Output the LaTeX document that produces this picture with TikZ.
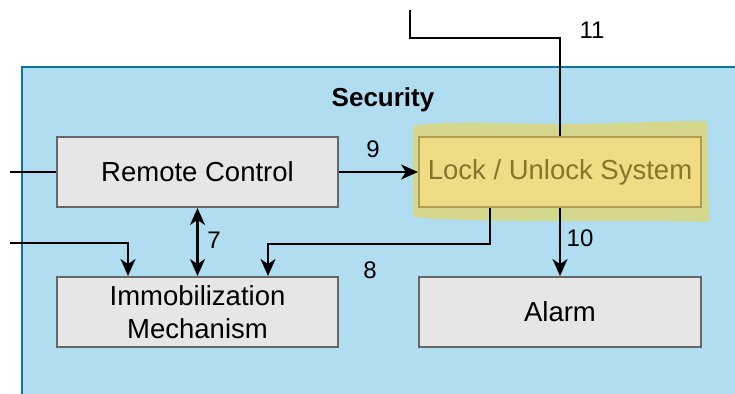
\documentclass[tikz,border=0pt]{standalone}
\usepackage{fontspec}
\setmainfont{Liberation Sans}
\usetikzlibrary{arrows.meta}
\definecolor{secfill}{HTML}{B1DDF0}
\definecolor{secline}{HTML}{10739E}
\definecolor{boxfill}{HTML}{E6E6E6}
\definecolor{boxline}{HTML}{666666}
\definecolor{lockfill}{HTML}{F0DC84}
\definecolor{lockline}{HTML}{B09B50}
\definecolor{locktext}{HTML}{86752A}
\definecolor{marker}{HTML}{D4D78C}

\begin{document}
\begin{tikzpicture}[x=1pt,y=-1pt,
  block/.style={draw=boxline, fill=boxfill, line width=2pt,
    minimum width=281pt, minimum height=70pt, inner sep=0pt,
    align=center, font=\fontsize{27.5}{33}\selectfont},
  wire/.style={line width=2.1pt, draw=black},
  head/.style={Stealth[length=17pt,width=15pt,inset=5pt]},
  tip/.style={-{Stealth[length=17pt,width=15pt,inset=5pt]}},
  bitip/.style={{Stealth[length=17pt,width=15pt,inset=5pt]}-{Stealth[length=17pt,width=15pt,inset=5pt]}},
  num/.style={font=\fontsize{24}{28}\selectfont, inner sep=0pt}]

\useasboundingbox (0,0) rectangle (735,393);
\clip (0,0) rectangle (735,393);
\fill[white] (0,0) rectangle (735,393);

% security group
\draw[fill=secfill, draw=secline, line width=1.5pt] (22,67) rectangle (760,420);
\node[font=\bfseries\fontsize{26}{30}\selectfont] (title) at (383,100) {Security};

% marker highlight behind the lock block
\fill[marker] (413,126) .. controls (450,120) and (500,124) .. (560,124)
  .. controls (620,124) and (660,121) .. (707,121) -- (709,222)
  .. controls (650,220) and (550,222) .. (470,220)
  .. controls (440,219) and (420,219) .. (413,216) -- cycle;

% blocks
\node[block] (remote) at (197.5,172) {Remote Control};
\node[block] (immob) at (197.5,312) {Immobilization\\Mechanism};
\node[block, fill=lockfill, draw=lockline, text=locktext, minimum width=282pt] (lock) at (560,172) {Lock / Unlock System};
\node[block, minimum width=282pt] (alarm) at (560,312) {Alarm};

% free ends
\coordinate (in1) at (10,172);
\coordinate (in2) at (10,243);
\coordinate (top) at (410,10);

% connectors
\draw[wire] (in1) -- (remote.west);
\draw[wire, tip] (in2) -| ([xshift=-69.5pt]immob.north);
\draw[wire, bitip] (remote.south) -- (immob.north);
\draw[wire, tip] ([xshift=-70pt]lock.south) -- ++(0,36) -| ([xshift=70.5pt]immob.north);
\draw[wire, tip] (remote.east) -- (lock.west);
\draw[wire, tip] (lock.south) -- (alarm.north);
\draw[wire] (top) -- (410,38) -| (lock.north);

% connector labels
\node[num] (l11) at (592,30) {11};
\node[num] (l9) at (373,149) {9};
\node[num] (l7) at (214,240) {7};
\node[num] (l8) at (370,270) {8};
\node[num] (l10) at (580,238) {10};
\end{tikzpicture}
\end{document}
